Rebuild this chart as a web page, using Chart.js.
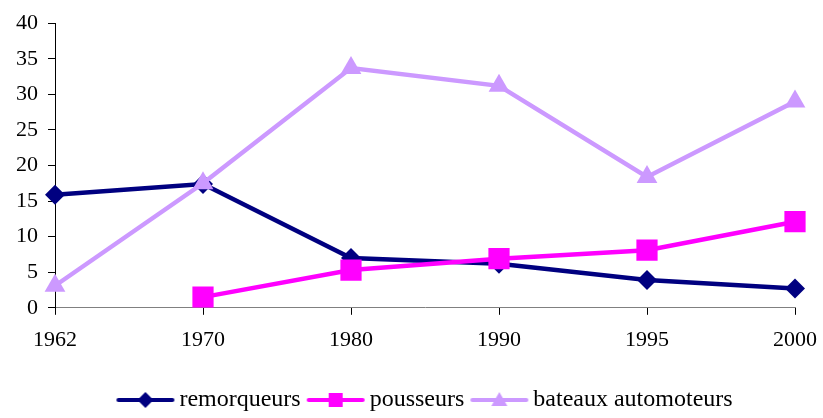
<!DOCTYPE html>
<html>
<head>
<meta charset="utf-8">
<script src="https://cdn.jsdelivr.net/npm/chart.js@4.4.0/dist/chart.umd.min.js"></script>
<style>
  html, body { margin: 0; padding: 0; background: #fff; }
  #wrap { width: 823px; height: 418px; }
</style>
</head>
<body>
<div id="wrap"><canvas id="chart"></canvas></div>
<script>
const years = ["1962", "1970", "1980", "1990", "1995", "2000"];
const remorqueurs = [15.9, 17.4, 7.0, 6.2, 3.9, 2.7];
const pousseurs = [null, 1.5, 5.3, 6.9, 8.1, 12.1];
const bateaux = [3.1, 17.5, 33.7, 31.2, 18.4, 29.0];

const NAVY = "#000080";
const PINK = "#FF00FF";
const LILAC = "#CC99FF";
const FONT = "'Liberation Serif', 'Times New Roman', serif";

// line + marker icon for the legend (drawn on the right part of the canvas)
function legendIcon(color, shape) {
  const c = document.createElement("canvas");
  c.width = 66;
  c.height = 22;
  const ctx = c.getContext("2d");
  const cx = 36;
  ctx.strokeStyle = color;
  ctx.fillStyle = color;
  ctx.lineWidth = 4;
  ctx.lineCap = "round";
  ctx.beginPath();
  ctx.moveTo(9, 11);
  ctx.lineTo(63, 11);
  ctx.stroke();
  ctx.beginPath();
  if (shape === "diamond") {
    ctx.moveTo(cx, 3); ctx.lineTo(cx + 8, 11); ctx.lineTo(cx, 19); ctx.lineTo(cx - 8, 11);
  } else if (shape === "square") {
    ctx.rect(cx - 7, 4, 14, 14);
  } else {
    ctx.moveTo(cx, 3); ctx.lineTo(cx + 8, 17); ctx.lineTo(cx - 8, 17);
  }
  ctx.closePath();
  ctx.fill();
  return c;
}

const icons = [
  legendIcon(NAVY, "diamond"),
  legendIcon(PINK, "square"),
  legendIcon(LILAC, "triangle")
];

new Chart(document.getElementById("chart"), {
  type: "line",
  data: {
    labels: years,
    datasets: [
      {
        label: "remorqueurs",
        data: remorqueurs,
        borderColor: NAVY,
        backgroundColor: NAVY,
        borderWidth: 4.5,
        pointStyle: "rectRot",
        pointRadius: 10,
        pointBorderWidth: 0,
        order: 3
      },
      {
        label: "pousseurs",
        data: pousseurs,
        borderColor: PINK,
        backgroundColor: PINK,
        borderWidth: 4.5,
        pointStyle: "rect",
        pointRadius: 15,
        pointBorderWidth: 0,
        order: 2
      },
      {
        label: "bateaux automoteurs",
        data: bateaux,
        borderColor: LILAC,
        backgroundColor: LILAC,
        borderWidth: 4.5,
        pointStyle: "triangle",
        pointRadius: 12,
        pointBorderWidth: 0,
        order: 1
      }
    ]
  },
  options: {
    responsive: true,
    maintainAspectRatio: false,
    animation: false,
    layout: { padding: { top: 20, right: 28, left: 0, bottom: -4 } },
    elements: { line: { tension: 0 } },
    plugins: {
      tooltip: { enabled: false },
      legend: {
        position: "bottom",
        fullSize: false,
        title: { display: true, text: "", font: { size: 1 }, padding: { top: 14.6, bottom: 0 } },
        labels: {
          usePointStyle: true,
          pointStyleWidth: 50,
          padding: 7,
          color: "#000",
          font: { family: FONT, size: 24 },
          generateLabels(chart) {
            return chart.data.datasets.map((ds, i) => ({
              text: ds.label,
              pointStyle: icons[i],
              fillStyle: ds.borderColor,
              strokeStyle: ds.borderColor,
              lineWidth: 0,
              fontColor: "#000",
              datasetIndex: i,
              hidden: false
            }));
          }
        }
      }
    },
    scales: {
      x: {
        offset: false,
        afterFit(scale) { scale.paddingRight = 0; scale.paddingLeft = 0; },
        grid: {
          display: true,
          drawOnChartArea: false,
          drawTicks: true,
          tickLength: 7,
          color: "#000",
          offset: false
        },
        border: { display: true, color: "#808080", width: 1 },
        ticks: {
          color: "#000",
          padding: 12,
          maxRotation: 0,
          font: { family: FONT, size: 22 }
        }
      },
      y: {
        min: 0,
        max: 40,
        afterFit(scale) { scale.width = 55; },
        grid: {
          display: true,
          drawOnChartArea: false,
          drawTicks: true,
          tickLength: 7,
          color: "#000"
        },
        border: { display: true, color: "#000", width: 1 },
        ticks: {
          stepSize: 5,
          color: "#000",
          padding: 10,
          font: { family: FONT, size: 22 }
        }
      }
    }
  }
});
</script>
</body>
</html>
